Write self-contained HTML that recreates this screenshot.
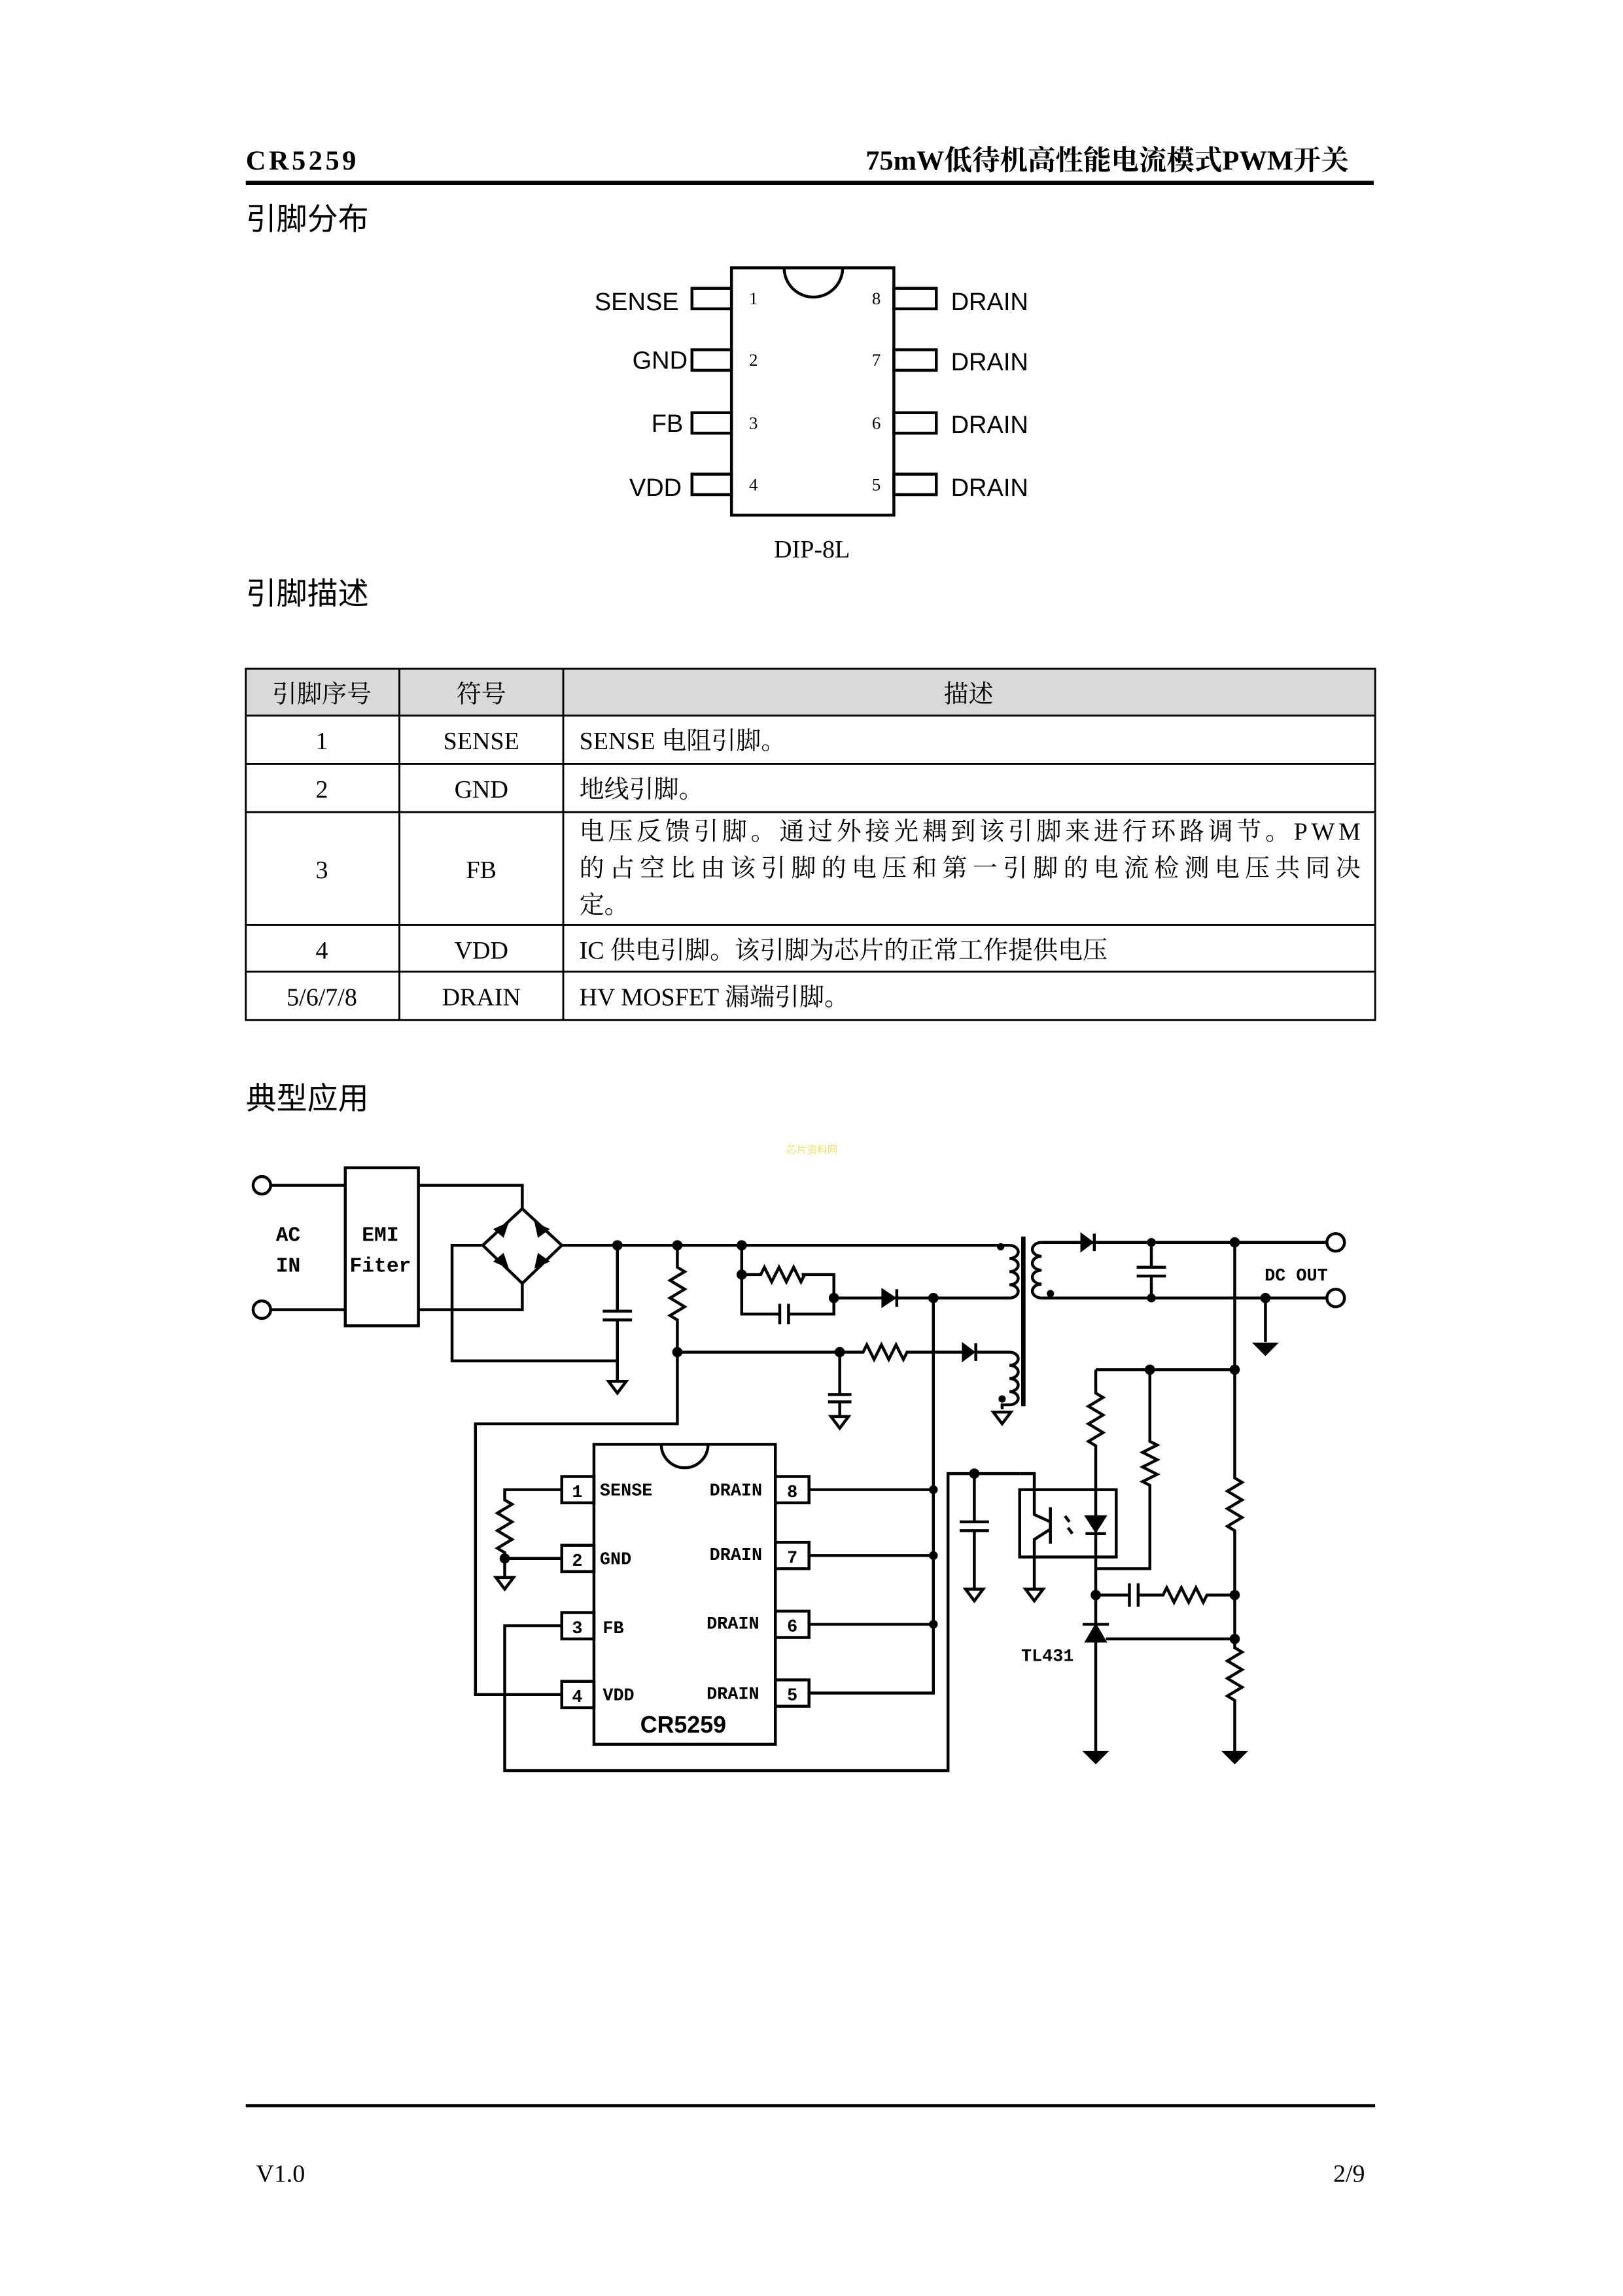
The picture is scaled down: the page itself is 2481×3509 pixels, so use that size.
<!DOCTYPE html>
<html><head><meta charset="utf-8"><style>
html,body{margin:0;padding:0;background:#fff;}
svg{display:block;}
.s{font-family:"Liberation Serif","Noto Serif CJK SC",serif;}
.h{font-family:"Liberation Sans","Noto Sans CJK SC",sans-serif;}
.m{font-family:"Liberation Mono","DejaVu Sans Mono",monospace;font-weight:bold;}
</style></head><body>
<svg width="2481" height="3509" viewBox="0 0 1109.4 1569" xmlns="http://www.w3.org/2000/svg">
<rect width="1110" height="1570" fill="#fff"/>
<!-- header -->
<text x="168" y="116" class="s" font-size="19" font-weight="bold" letter-spacing="2">CR5259</text>
<text x="922" y="116" class="s" font-size="19" font-weight="bold" text-anchor="end">75mW低待机高性能电流模式PWM开关</text>
<rect x="168" y="123.5" width="771" height="3" fill="#000"/>
<text x="168" y="157" class="h" font-size="21">引脚分布</text>

<!-- pinout -->
<g fill="none" stroke="#000" stroke-width="2">
<rect x="500" y="183" width="111" height="169"/>
<path d="M536 183 a20 20 0 0 0 40 0"/>
<rect x="473" y="197" width="27" height="14"/><rect x="473" y="239" width="27" height="14"/>
<rect x="473" y="282" width="27" height="14"/><rect x="473" y="324" width="27" height="14"/>
<rect x="611" y="197" width="29" height="14"/><rect x="611" y="239" width="29" height="14"/>
<rect x="611" y="282" width="29" height="14"/><rect x="611" y="324" width="29" height="14"/>
</g>
<g class="h" font-size="17" text-anchor="end">
<text x="464" y="212">SENSE</text><text x="470" y="252">GND</text><text x="467" y="295">FB</text><text x="466" y="339">VDD</text>
</g>
<g class="h" font-size="17">
<text x="650" y="212">DRAIN</text><text x="650" y="253">DRAIN</text><text x="650" y="296">DRAIN</text><text x="650" y="339">DRAIN</text>
</g>
<g class="s" font-size="12">
<text x="512" y="208">1</text><text x="512" y="250">2</text><text x="512" y="293">3</text><text x="512" y="335">4</text>
<text x="596" y="208">8</text><text x="596" y="250">7</text><text x="596" y="293">6</text><text x="596" y="335">5</text>
</g>
<text x="555" y="381" class="s" font-size="17" text-anchor="middle">DIP-8L</text>

<text x="168" y="413" class="h" font-size="21">引脚描述</text>

<!-- table -->
<rect x="168" y="457" width="772" height="32" fill="#d9d9d9"/>
<g stroke="#000" stroke-width="1.3" fill="none">
<rect x="168" y="457" width="772" height="240"/>
<line x1="168" y1="489" x2="940" y2="489"/><line x1="168" y1="522" x2="940" y2="522"/>
<line x1="168" y1="555" x2="940" y2="555"/><line x1="168" y1="632" x2="940" y2="632"/>
<line x1="168" y1="664" x2="940" y2="664"/>
<line x1="273" y1="457" x2="273" y2="697"/><line x1="385" y1="457" x2="385" y2="697"/>
</g>
<g class="s" font-size="17" text-anchor="middle">
<text x="220" y="480">引脚序号</text><text x="329" y="480">符号</text><text x="662" y="480">描述</text>
<text x="220" y="512">1</text><text x="329" y="512">SENSE</text>
<text x="220" y="545">2</text><text x="329" y="545">GND</text>
<text x="220" y="600">3</text><text x="329" y="600">FB</text>
<text x="220" y="655">4</text><text x="329" y="655">VDD</text>
<text x="220" y="687">5/6/7/8</text><text x="329" y="687">DRAIN</text>
</g>
<g class="s" font-size="17">
<text x="396" y="512">SENSE 电阻引脚。</text>
<text x="396" y="545">地线引脚。</text>
<text x="396" y="574" textLength="534" lengthAdjust="spacing">电压反馈引脚。通过外接光耦到该引脚来进行环路调节。PWM</text>
<text x="396" y="599" textLength="534" lengthAdjust="spacing">的占空比由该引脚的电压和第一引脚的电流检测电压共同决</text>
<text x="396" y="624">定。</text>
<text x="396" y="655">IC 供电引脚。该引脚为芯片的正常工作提供电压</text>
<text x="396" y="687">HV MOSFET  漏端引脚。</text>
</g>

<text x="168" y="758" class="h" font-size="21">典型应用</text>
<text x="555" y="788" class="h" font-size="7" fill="#f0e060" text-anchor="middle">芯片资料网</text>

<!-- schematic -->
<g fill="none" stroke="#000" stroke-width="2">
<circle cx="179" cy="810" r="6"/><circle cx="179" cy="895" r="6"/>
<path d="M185 810H236M185 895H236"/>
<rect x="236" y="798" width="50" height="108"/>
<path d="M286 810H357V826M286 895H357V877"/>
<path d="M357 826L330 851L357 877L384 851Z"/>
<path d="M330 851H309V930H422"/>
<path d="M384 851H690"/>
<!-- bulk cap -->
<path d="M422 851V896M412 896H432M412 902H432M422 902V944"/>
<path d="M416 944H428L422 952Z"/>
<!-- start resistor -->
<path d="M463 851V866l5 3 l-10 6 l10 6 l-10 6 l10 6 l-10 6 l5 3V973H325V1158H384"/>
<!-- aux line -->
<path d="M463 924H590l2.5 -5 l5 10 l5 -10 l5 10 l5 -10 l5 10 l2.5 -5H658"/>
<path d="M574 924V953M566 953H582M566 958H582M574 958V968M568 968H580L574 976Z"/>
<!-- snubber -->
<path d="M507 851V898H533M539 898H570V871H548"/>
<path d="M507 871H520l2.5 -5 l5 10 l5 -10 l5 10 l5 -10 l5 10 l2.5 -5"/>
<path d="M533 891V905M539 891V905"/>
<path d="M570 887H690"/>
<path d="M638 887V1158"/>
<!-- transformer -->
<path d="M690 851a6 4.5 0 0 1 0 9a6 4.5 0 0 1 0 9a6 4.5 0 0 1 0 9a6 4.5 0 0 1 0 9"/>
<path d="M712 849a6 4.5 0 0 0 0 9.5a6 4.5 0 0 0 0 9.5a6 4.5 0 0 0 0 9.5a6 4.5 0 0 0 0 9.5"/>
<path d="M668 924H690a6 4.5 0 0 1 0 9a6 4.5 0 0 1 0 9a6 4.5 0 0 1 0 9a6 4.5 0 0 1 0 9H685V963"/>
<path d="M679 965H691L685 973Z"/>
<path d="M712 849H913M712 887H913"/>
<path d="M787 849V866M777 866H797M777 872H797M787 872V887"/>
<path d="M865 887V917"/>
<circle cx="913" cy="849" r="6" fill="#fff"/><circle cx="913" cy="887" r="6" fill="#fff"/>
<!-- right network -->
<path d="M844 849V1010l5 3 l-10 6 l10 6 l-10 6 l10 6 l-10 6 l5 3V1126l5 3 l-10 6 l10 6 l-10 6 l10 6 l-10 6 l5 3V1197"/>
<path d="M749 936H844"/>
<path d="M749 936V952l5 3 l-10 6 l10 6 l-10 6 l10 6 l-10 6 l5 3V1197"/>
<path d="M786 936V985l5 2.5 l-10 5 l10 5 l-10 5 l10 5 l-10 5 l5 2.5V1072H749"/>
<path d="M749 1090H772M778 1090H795l2.5 -5 l5 10 l5 -10 l5 10 l5 -10 l5 10 l2.5 -5H844"/>
<path d="M772 1082V1098M778 1082V1098"/>
<path d="M756 1120H844"/>
<!-- opto -->
<rect x="697" y="1018" width="66" height="46"/>
<path d="M697 1007H666M666 1007H648V1210H345V1111H384"/>
<path d="M666 1007V1040M656 1040H676M656 1046H676M666 1046V1086M660 1086H672L666 1094Z"/>
<path d="M697 1007H707V1035L718 1040M718 1030V1055M718 1045L707 1052V1086"/>
<path d="M701 1086H713L707 1094Z"/>
<path d="M728 1036l3 4M730 1044l3 4"/>
<!-- chip -->
<rect x="406" y="987" width="124" height="205"/>
<path d="M452 987a16 16 0 0 0 32 0"/>
<rect x="384" y="1009" width="22" height="18"/><rect x="384" y="1056" width="22" height="18"/>
<rect x="384" y="1102" width="22" height="18"/><rect x="384" y="1149" width="22" height="18"/>
<rect x="530" y="1009" width="23" height="18"/><rect x="530" y="1054" width="23" height="18"/>
<rect x="530" y="1101" width="23" height="18"/><rect x="530" y="1148" width="23" height="18"/>
<path d="M553 1018H638M553 1063H638M553 1110H638M553 1157H638"/>
<path d="M384 1018H345V1025l5 3 l-10 6 l10 6 l-10 6 l10 6 l-10 6 l5 3V1065H384M345 1065V1078"/>
<path d="M339 1078H351L345 1086Z"/>
</g>
<!-- filled bits -->
<g fill="#000" stroke="#000" stroke-width="1">
<path d="M739 843V855L747 849Z"/><path d="M748 843V855" stroke-width="2"/>
<path d="M603 881V893L612 887Z"/><path d="M613 881V893" stroke-width="2"/>
<path d="M658 918V930L666 924Z"/><path d="M667 918V930" stroke-width="2"/>
<path d="M742 1036H756L749 1047Z"/><path d="M742 1048H756" stroke-width="2"/>
<path d="M742 1122H756L749 1110Z"/><path d="M740 1110H758" stroke-width="2"/>
<path d="M857 918H873L865 926Z"/>
<path d="M741 1197H757L749 1205Z"/><path d="M836 1197H852L844 1205Z"/>
<path d="M338 840L347 836L344 845Z"/><path d="M366 836L375 840L368 845Z"/>
<path d="M338 862L347 866L344 857Z"/><path d="M366 866L375 862L368 857Z"/>
<circle cx="422" cy="851" r="3"/><circle cx="463" cy="851" r="3"/><circle cx="507" cy="851" r="3"/>
<circle cx="463" cy="924" r="3"/><circle cx="574" cy="924" r="3"/><circle cx="570" cy="887" r="3"/>
<circle cx="638" cy="887" r="3"/><circle cx="507" cy="871" r="3"/>
<circle cx="638" cy="1018" r="2.5"/><circle cx="638" cy="1063" r="2.5"/><circle cx="638" cy="1110" r="2.5"/>
<circle cx="787" cy="849" r="2.5"/><circle cx="787" cy="887" r="2.5"/>
<circle cx="844" cy="849" r="3"/><circle cx="865" cy="887" r="3"/>
<circle cx="844" cy="936" r="3"/><circle cx="786" cy="936" r="3"/>
<circle cx="749" cy="1090" r="3"/><circle cx="844" cy="1090" r="3"/><circle cx="844" cy="1120" r="3"/>
<circle cx="666" cy="1007" r="3"/><circle cx="345" cy="1065" r="3"/>
<circle cx="684" cy="852" r="2"/><circle cx="718" cy="884" r="2"/><circle cx="685" cy="956" r="2"/>
</g>
<rect x="698" y="845" width="3" height="116" fill="#000"/>
<g class="m" font-size="14" text-anchor="middle">
<text x="197" y="848">AC</text><text x="197" y="869">IN</text>
<text x="260" y="848">EMI</text><text x="260" y="869">Fiter</text>
</g>
<text x="886" y="875" class="m" font-size="12" text-anchor="middle">DC OUT</text>
<text x="716" y="1135" class="m" font-size="12" text-anchor="middle">TL431</text>
<g class="m" font-size="12">
<text x="391" y="1023">1</text><text x="391" y="1070">2</text><text x="391" y="1116">3</text><text x="391" y="1163">4</text>
<text x="538" y="1023">8</text><text x="538" y="1068">7</text><text x="538" y="1115">6</text><text x="538" y="1162">5</text>
<text x="410" y="1022">SENSE</text><text x="410" y="1069">GND</text><text x="412" y="1116">FB</text><text x="412" y="1162">VDD</text>
</g>
<g class="m" font-size="12" text-anchor="end">
<text x="521" y="1022">DRAIN</text><text x="521" y="1066">DRAIN</text><text x="519" y="1113">DRAIN</text><text x="519" y="1161">DRAIN</text>
</g>
<text x="467" y="1184" class="h" font-size="16" font-weight="bold" text-anchor="middle">CR5259</text>

<!-- footer -->
<rect x="168" y="1438" width="772" height="2" fill="#000"/>
<text x="175" y="1491" class="s" font-size="17">V1.0</text>
<text x="933" y="1491" class="s" font-size="17" text-anchor="end">2/9</text>
</svg>
</body></html>
